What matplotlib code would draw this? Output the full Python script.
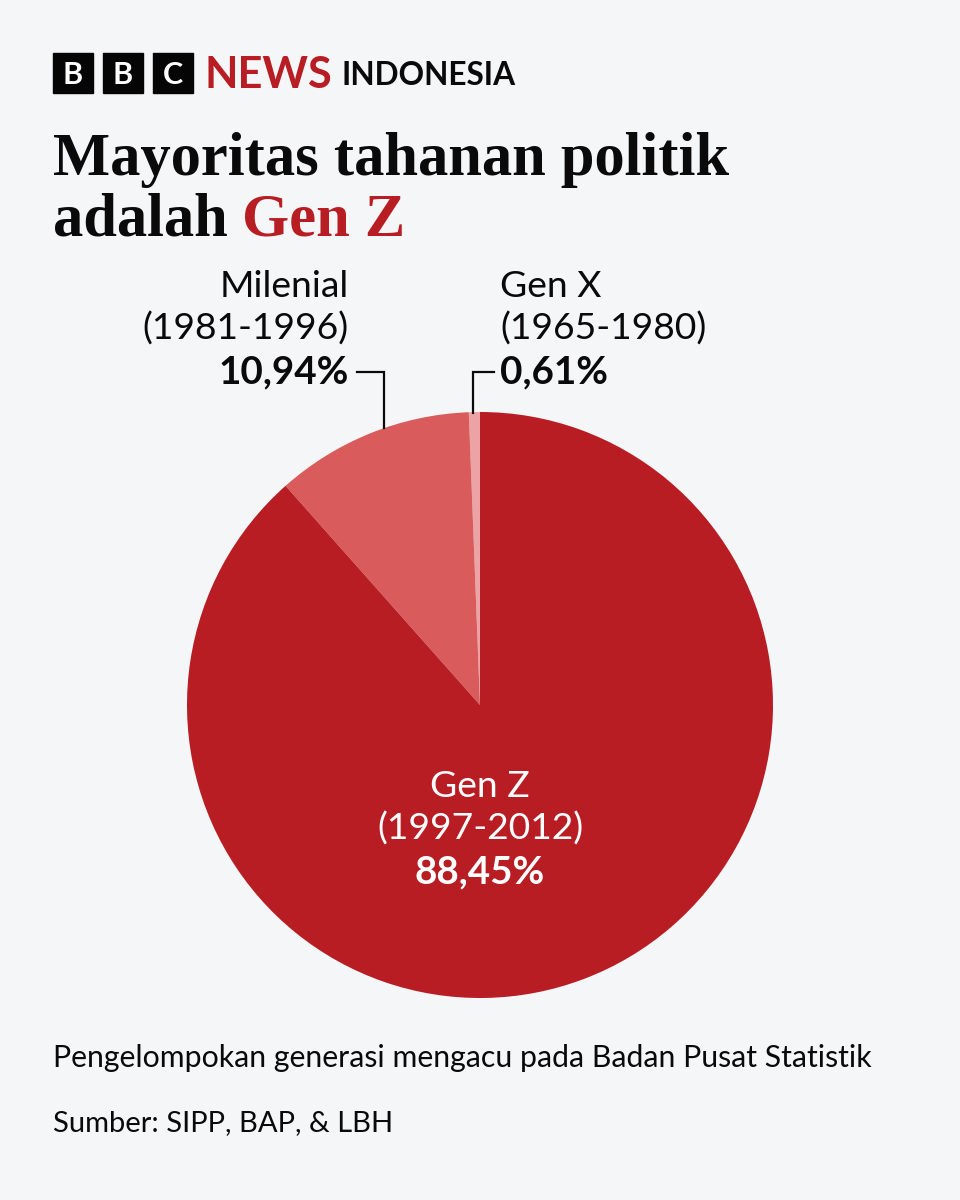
import matplotlib
matplotlib.use("Agg")
import matplotlib.pyplot as plt
from matplotlib.patches import Rectangle

# data
generations = ["Gen X", "Milenial", "Gen Z"]
year_ranges = ["(1965-1980)", "(1981-1996)", "(1997-2012)"]
shares = [0.61, 10.94, 88.45]
share_labels = ["0,61%", "10,94%", "88,45%"]
colors = ["#eca3a5", "#d95b5c", "#b71d23"]

bg = "#f5f6f8"
red = "#b71d23"
ink = "#0a0a0a"
sans = "Lato"
serif = "Liberation Serif"
label_size = 26.8
bold_size = 27.8
title_size = 43.6

fig = plt.figure(figsize=(9.6, 12), dpi=100, facecolor=bg)

# overlay axes in pixel coords for text
ax = fig.add_axes([0, 0, 1, 1])
ax.set_xlim(0, 960)
ax.set_ylim(1200, 0)
ax.axis("off")

# pie
pie_ax = fig.add_axes([187 / 960, 202 / 1200, 586 / 960, 586 / 1200])
pie_ax.pie(shares, colors=colors, startangle=90, counterclock=True, radius=1)
pie_ax.set_xlim(-1, 1)
pie_ax.set_ylim(-1, 1)

# logo
for x0, letter in zip([53, 103, 153], "BBC"):
    ax.add_patch(Rectangle((x0, 53), 40, 40, color="#050505"))
    ax.text(x0 + 20, 84, letter, color="white", fontsize=22, family=sans,
            fontweight="bold", ha="center", va="baseline")
ax.text(205, 88, "NEWS", color=red, fontsize=31.2, family=sans, fontweight="bold", va="baseline")
ax.text(342, 85, "INDONESIA", color=ink, fontsize=22.8, family=sans, fontweight="bold", va="baseline")

# title
ax.text(53, 175, "Mayoritas tahanan politik", fontsize=title_size, family=serif, fontweight="bold",
        color=ink, va="baseline")
ax.text(53, 235, "adalah", fontsize=title_size, family=serif, fontweight="bold", color=ink, va="baseline")
ax.text(242, 235, "Gen Z", fontsize=title_size, family=serif, fontweight="bold", color=red, va="baseline")

# labels
ax.text(349, 297, generations[1], fontsize=label_size, family=sans, ha="right", va="baseline", color=ink)
ax.text(349, 340, year_ranges[1], fontsize=label_size, family=sans, ha="right", va="baseline", color=ink)
ax.text(349, 383, share_labels[1], fontsize=bold_size, family=sans, fontweight="bold", ha="right", va="baseline", color=ink)

ax.text(500, 297, generations[0], fontsize=label_size, family=sans, va="baseline", color=ink)
ax.text(500, 340, year_ranges[0], fontsize=label_size, family=sans, va="baseline", color=ink)
ax.text(500, 383, share_labels[0], fontsize=bold_size, family=sans, fontweight="bold", va="baseline", color=ink)

ax.text(480, 797, generations[2], fontsize=label_size, family=sans, ha="center", va="baseline", color="white")
ax.text(480, 840, year_ranges[2], fontsize=label_size, family=sans, ha="center", va="baseline", color="white")
ax.text(480, 883, share_labels[2], fontsize=bold_size, family=sans, fontweight="bold", ha="center", va="baseline", color="white")

# leader lines
ax.plot([357, 384, 384], [372, 372, 428], color=ink, lw=1.6, solid_joinstyle="miter")
ax.plot([494, 473, 473], [372, 372, 413], color=ink, lw=1.6, solid_joinstyle="miter")

# footer
ax.text(53, 1067, "Pengelompokan generasi mengacu pada Badan Pusat Statistik", fontsize=21.8,
        family=sans, color=ink, va="baseline")
ax.text(53, 1131, "Sumber: SIPP, BAP, & LBH", fontsize=21, family=sans, color=ink, va="baseline")

# keep text overlay above the pie
ax.set_zorder(3)
ax.patch.set_alpha(0)

fig.savefig("out.png", dpi=100, facecolor=bg)
